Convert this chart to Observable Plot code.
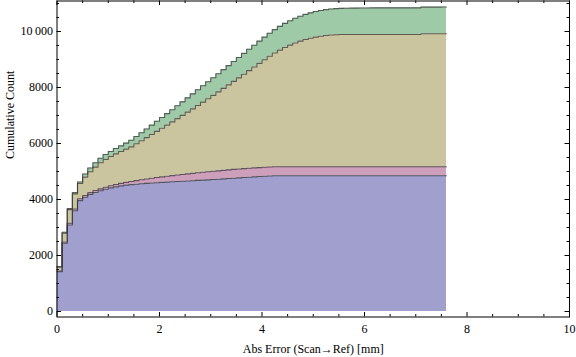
<!DOCTYPE html>
<html><head><meta charset="utf-8">
<script src="https://cdn.jsdelivr.net/npm/d3@7"></script>
<script src="https://cdn.jsdelivr.net/npm/@observablehq/plot@0.6"></script>
<style>html,body{margin:0;padding:0;background:#fff;} #chart{width:576px;height:357px;}</style>
</head><body><div id="chart"></div>
<script>
// ---- data (cumulative counts per bin of width 0.1, one array per stacked layer) ----
const seriesNames = ["Series 1", "Series 2", "Series 3", "Series 4"];
const seriesColors = ["#a09fcd", "#cd9fbb", "#cbc59f", "#9fcaa8"];
const binWidth = 0.1;

const series1 = [
  1420, 2440, 3090, 3600, 3960, 4080, 4180, 4250, 4310, 4365,
  4415, 4450, 4485, 4515, 4530, 4545, 4560, 4575, 4588, 4600,
  4612, 4622, 4632, 4642, 4652, 4662, 4672, 4682, 4692, 4702,
  4712, 4724, 4736, 4748, 4760, 4772, 4784, 4796, 4808, 4820,
  4832, 4842, 4850, 4850, 4850, 4850, 4850, 4850, 4850, 4850,
  4850, 4850, 4850, 4850, 4850, 4850, 4850, 4850, 4850, 4850,
  4850, 4850, 4850, 4850, 4850, 4850, 4850, 4850, 4850, 4850,
  4850, 4850, 4850, 4850, 4850, 4850
];
const series2 = [
  25, 40, 60, 60, 65, 65, 65, 70, 70, 75,
  75, 85, 90, 97, 115, 130, 145, 158, 172, 185,
  196, 208, 220, 231, 242, 252, 262, 272, 280, 288,
  296, 300, 306, 311, 315, 318, 319, 320, 320, 320,
  320, 320, 320, 320, 320, 320, 320, 320, 320, 320,
  320, 320, 320, 320, 320, 320, 320, 320, 320, 320,
  320, 320, 320, 320, 320, 320, 320, 320, 320, 320,
  320, 320, 320, 320, 320, 320
];
const series3 = [
  135, 320, 490, 540, 545, 655, 745, 835, 930, 990,
  1045, 1095, 1140, 1188, 1235, 1315, 1395, 1477, 1560, 1647,
  1737, 1828, 1920, 2014, 2109, 2206, 2304, 2403, 2505, 2608,
  2712, 2819, 2925, 3033, 3143, 3255, 3370, 3486, 3604, 3722,
  3838, 3953, 4060, 4165, 4260, 4345, 4420, 4485, 4542, 4590,
  4630, 4662, 4687, 4705, 4715, 4720, 4720, 4720, 4720, 4720,
  4720, 4720, 4720, 4720, 4720, 4720, 4720, 4720, 4720, 4720,
  4720, 4747, 4747, 4747, 4747, 4747
];
const series4 = [
  30, 30, 35, 45, 55, 110, 135, 155, 165, 175,
  180, 190, 200, 215, 235, 260, 285, 310, 335, 360,
  385, 410, 435, 460, 485, 510, 535, 560, 585, 608,
  630, 650, 670, 690, 710, 728, 745, 762, 778, 794,
  808, 822, 835, 848, 860, 871, 881, 890, 898, 905,
  912, 918, 923, 928, 932, 936, 940, 943, 946, 949,
  951, 953, 955, 955, 955, 955, 955, 955, 955, 955,
  955, 955, 955, 955, 955, 960
];
const seriesValues = [series1, series2, series3, series4];

const xTicks = [0, 2, 4, 6, 8, 10];
const yTicks = [0, 2000, 4000, 6000, 8000, 10000];
const xLabel = "Abs Error (Scan\u2192Ref) [mm]";
const yLabel = "Cumulative Count";

// ---- build table ----
const rows = [];
seriesValues.forEach((vals, si) => {
  vals.forEach((v, i) => rows.push({x: i * binWidth, y: v, series: seriesNames[si]}));
  // right edge of the last bin
  rows.push({x: vals.length * binWidth, y: vals[vals.length - 1], series: seriesNames[si]});
});

const W = 576, H = 357;
const mL = 56.5, mR = 7, mT = 0.5, mB = 40.5;
const plotW = W - mL - mR, plotH = H - mT - mB;
const majorLen = 4.5, minorLen = 2.5;
const xMinor = d3.range(0, 10.001, 0.5).filter(v => !xTicks.includes(v));
const yMinor = d3.range(0, 11001, 500).filter(v => !yTicks.includes(v));
const fmt = d => d >= 10000 ? d3.format("d")(Math.floor(d / 1000)) + "\u2009" + d3.format("03d")(d % 1000) : String(d);
const ink = "#000";

function ticksX(vals, len) {
  return [
    Plot.ruleX(vals, {insetTop: plotH - len, stroke: ink, strokeWidth: 1}),
    Plot.ruleX(vals, {insetBottom: plotH - len, stroke: ink, strokeWidth: 1})
  ];
}
function ticksY(vals, len) {
  return [
    Plot.ruleY(vals, {insetRight: plotW - len, stroke: ink, strokeWidth: 1}),
    Plot.ruleY(vals, {insetLeft: plotW - len, stroke: ink, strokeWidth: 1})
  ];
}

const chart = Plot.plot({
  width: W, height: H,
  marginLeft: mL, marginRight: mR, marginTop: mT, marginBottom: mB,
  x: {domain: [0, 10]},
  y: {domain: [-196, 11089]},
  color: {domain: seriesNames, range: seriesColors},
  style: {fontFamily: "'Liberation Serif', 'Times New Roman', serif", fontSize: "12px", color: "#000", background: "#fff", overflow: "visible"},
  marks: [
    Plot.areaY(rows, {x: "x", y: "y", z: "series", fill: "series", curve: "step-after"}),
    Plot.lineY(rows, Plot.stackY2({x: "x", y: "y", z: "series", curve: "step-after", stroke: "#333", strokeOpacity: 0.72, strokeWidth: 1.1})),
    ...ticksX(xTicks, majorLen), ...ticksX(xMinor, minorLen),
    ...ticksY(yTicks, majorLen), ...ticksY(yMinor, minorLen),
    Plot.frame({stroke: ink, strokeWidth: 1}),
    Plot.axisX({ticks: xTicks, tickSize: 0, tickPadding: 7, label: null, fontSize: 12, tickFormat: d => String(d)}),
    Plot.axisY({ticks: yTicks, tickSize: 0, tickPadding: 4, label: null, fontSize: 12, tickFormat: fmt}),
    Plot.text([yLabel], {frameAnchor: "left", dx: -43, rotate: -90, lineAnchor: "bottom", text: d => d, fontSize: 12, fill: "#000"}),
    Plot.text([xLabel], {frameAnchor: "bottom", dy: 35.5, lineAnchor: "bottom", text: d => d, fontSize: 12, fill: "#000"})
  ]
});
document.getElementById("chart").appendChild(chart);
</script>
</body></html>
